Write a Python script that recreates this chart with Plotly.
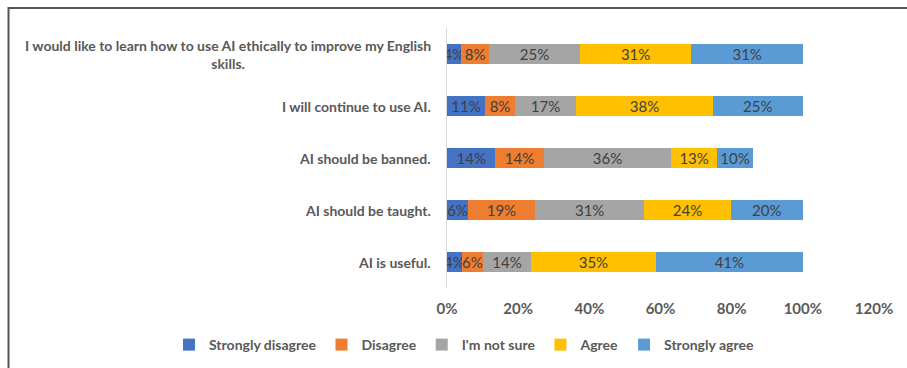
import plotly.graph_objects as go

categories = [
    "I would like to learn how to use AI ethically to improve my English<br>skills.",
    "I will continue to use AI.",
    "AI should be banned.",
    "AI should be taught.",
    "AI is useful.",
]
series_names = ["Strongly disagree", "Disagree", "I'm not sure", "Agree", "Strongly agree"]
strongly_disagree = [3.9, 10.7, 13.6, 5.9, 4.2]
disagree = [8.0, 8.4, 13.6, 18.8, 5.9]
not_sure = [25.4, 17.2, 35.8, 30.8, 13.5]
agree = [31.4, 38.4, 12.9, 24.2, 35.1]
strongly_agree = [31.3, 25.3, 10.1, 20.3, 41.3]
colors = ["#4472C4", "#ED7D31", "#A5A5A5", "#FFC000", "#5B9BD5"]
tick_vals = [0, 20, 40, 60, 80, 100, 120]
tick_text = ["0%", "20%", "40%", "60%", "80%", "100%", "120%"]

FONT = "Lato, 'Open Sans', sans-serif"
W, H = 907, 368
T, B = 28, 80
PH = H - T - B
series = [strongly_disagree, disagree, not_sure, agree, strongly_agree]

fig = go.Figure()
for name, vals, col in zip(series_names, series, colors):
    fig.add_trace(go.Bar(
        y=categories, x=vals, name=name, orientation="h",
        marker=dict(color=col, line=dict(width=0)),
        text=[f"{round(v):.0f}%" for v in vals],
        textposition="inside", insidetextanchor="middle",
        textangle=0, constraintext="none",
        textfont=dict(family=FONT, size=15, color="#404040"),
        hoverinfo="skip",
    ))

annotations = []
for c in categories:
    annotations.append(dict(
        x=447 / W, xref="paper", y=c, yref="y", xanchor="right", yanchor="middle",
        xshift=-14, text=f"<b>{c}</b>", showarrow=False, align="center",
        font=dict(family=FONT, size=14, color="#595959"),
    ))

fig.update_layout(
    width=W, height=H,
    margin=dict(l=0, r=0, t=T, b=B, autoexpand=False),
    barmode="stack", bargap=0.615,
    plot_bgcolor="rgba(0,0,0,0)", paper_bgcolor="white",
    showlegend=True,
    legend=dict(orientation="h",
                x=464 / W, xanchor="center", y=(H - B - 345) / PH, yanchor="middle",
                traceorder="normal",
                font=dict(family=FONT, size=14, color="#595959", weight="bold"),
                itemwidth=30),
    annotations=annotations,
    xaxis=dict(domain=[447 / W, 874 / W], range=[0, 120], tickvals=tick_vals, ticktext=tick_text,
               showgrid=False, zeroline=False, showline=False,
               tickfont=dict(family=FONT, size=15, color="#595959", weight="bold"),
               ticks="", ticklabelstandoff=10),
    yaxis=dict(autorange="reversed", showticklabels=False, showgrid=False,
               showline=True, linecolor="#D9D9D9", linewidth=1, ticks="",
               zeroline=False),
    shapes=[
        dict(type="line", xref="paper", yref="paper",
             x0=8 / W, x1=1, y0=(H - 8 - B) / PH, y1=(H - 8 - B) / PH,
             line=dict(color="#555555", width=2)),
        dict(type="line", xref="paper", yref="paper",
             x0=8.5 / W, x1=8.5 / W, y0=(H - 7 - B) / PH, y1=-B / PH,
             line=dict(color="#555555", width=2)),
    ],
)

fig.write_html("out.html")
